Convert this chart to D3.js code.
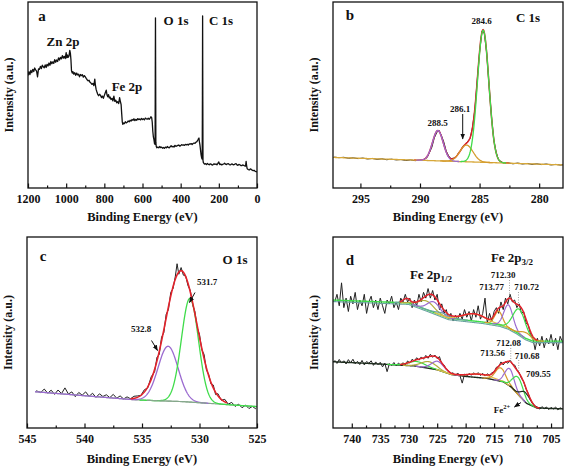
<!DOCTYPE html>
<html>
<head>
<meta charset="utf-8">
<script src="https://cdn.jsdelivr.net/npm/d3@7/dist/d3.min.js"></script>
<style>
html,body{margin:0;padding:0;background:#fff;}
svg{display:block;}
text{font-family:"Liberation Serif","Times New Roman",serif;font-weight:bold;fill:#111;}
</style>
</head>
<body>
<svg id="fig" width="567" height="473"></svg>
<script>
// ================= DATA =================
// (a) survey spectrum: [binding energy eV, intensity a.u.]
const surveyTicks = [1200,1000,800,600,400,200,0];
const surveyMinor = [1100,900,700,500,300,100];
const surveyLabels = ["Zn 2p","Fe 2p","O 1s","C 1s"];
const surveyData = [[1200,60.5],[1195,62.5],[1190,61.0],[1185,63.2],[1180,62.0],[1175,63.8],[1170,62.6],[1165,64.5],[1160,63.5],[1155,62.8],[1150,59.8],[1145,64.0],[1140,63.8],[1135,65.4],[1130,64.2],[1125,66.0],[1120,65.2],[1115,64.6],[1110,66.2],[1105,64.8],[1100,66.5],[1095,65.6],[1090,67.2],[1085,66.0],[1080,68.0],[1075,66.8],[1070,67.8],[1065,67.0],[1060,69.0],[1055,67.6],[1050,68.8],[1045,68.0],[1040,70.0],[1035,68.8],[1030,70.2],[1025,69.4],[1020,71.2],[1015,69.8],[1010,70.8],[1005,69.6],[1000,72.8],[997,70.0],[993,71.5],[990,70.2],[985,71.0],[981,74.0],[978,72.5],[975,69.0],[972,63.0],[968,61.8],[965,62.6],[960,61.2],[955,62.0],[950,60.6],[945,61.8],[940,60.8],[935,61.2],[930,59.8],[925,61.0],[920,60.4],[915,60.9],[910,59.6],[905,60.4],[900,59.8],[895,58.9],[890,58.2],[885,57.6],[880,57.9],[875,56.8],[870,56.4],[865,55.8],[860,56.2],[855,55.0],[850,58.5],[847,55.5],[843,53.0],[840,52.0],[835,50.5],[830,49.6],[825,50.4],[820,49.8],[815,48.6],[810,49.4],[805,48.2],[800,49.8],[795,51.2],[790,52.6],[786,50.0],[782,49.0],[778,50.2],[774,48.4],[770,48.9],[765,47.6],[760,48.2],[755,46.8],[750,49.4],[745,46.6],[740,47.2],[735,45.8],[730,46.4],[725,45.4],[720,48.6],[716,46.5],[712,44.8],[709,40.0],[706,35.6],[703,34.2],[700,35.0],[695,34.6],[690,35.6],[685,35.0],[680,35.4],[675,36.0],[670,35.6],[665,36.4],[660,36.0],[655,36.8],[650,36.4],[645,37.2],[640,36.2],[635,36.9],[630,36.4],[625,37.3],[620,36.8],[615,37.1],[610,36.6],[605,37.4],[600,36.8],[595,37.2],[590,36.6],[585,37.6],[580,37.2],[575,37.0],[570,37.5],[565,36.9],[560,37.6],[556,38.3],[552,37.8],[549,35.5],[546,30.5],[543,27.5],[540,26.0],[537,23.8],[534,23.5],[533,60.0],[532,91.5],[531,60.0],[530,24.5],[528,22.4],[525,21.6],[520,22.0],[515,21.6],[510,22.3],[505,21.7],[500,22.0],[495,21.4],[490,21.8],[485,21.3],[480,22.0],[475,21.6],[470,22.3],[465,21.8],[460,21.6],[455,22.2],[450,22.7],[445,22.1],[440,22.4],[435,22.0],[430,22.9],[425,22.4],[420,22.6],[415,22.9],[410,23.1],[405,22.5],[400,22.8],[395,23.3],[390,23.0],[385,23.2],[380,22.9],[375,23.4],[370,23.2],[365,23.5],[360,23.1],[355,23.7],[350,23.6],[345,23.9],[340,23.4],[335,23.9],[330,24.2],[325,24.0],[320,24.6],[315,24.9],[310,25.8],[307,26.4],[304,26.9],[302,25.0],[299,23.2],[296,20.5],[293,17.8],[290,16.2],[287,15.5],[286,50.0],[285,92.5],[284,50.0],[283,14.8],[281,13.6],[278,13.2],[275,12.8],[270,13.1],[265,12.6],[260,13.2],[255,12.7],[250,12.5],[245,13.0],[240,12.8],[235,12.3],[230,12.6],[225,13.0],[220,12.7],[215,12.9],[210,12.5],[205,13.2],[200,14.0],[197,13.0],[195,12.6],[190,12.9],[185,12.4],[180,12.7],[175,12.9],[170,13.3],[165,12.8],[160,12.6],[155,13.0],[150,13.1],[145,12.6],[140,12.4],[135,12.8],[130,12.9],[125,12.5],[120,12.6],[115,12.9],[110,13.1],[105,12.4],[100,12.2],[95,12.7],[90,12.5],[85,12.1],[80,12.0],[75,12.4],[70,12.2],[65,11.9],[60,11.8],[57,14.3],[55,12.5],[52,10.6],[50,10.2],[45,9.9],[40,9.7],[35,10.3],[30,10.0],[25,9.6],[20,9.3],[15,9.5],[10,9.0],[5,8.8],[0,8.6]];

// (b) C 1s
const c1sTicks = [295,290,285,280];
const c1sMinor = [292.5,287.5,282.5];
const c1sData = [[297.2,16.6],[296.8,16.3],[296.4,16.5],[296.0,16.0],[295.6,16.2],[295.2,15.8],[294.8,16.1],[294.4,15.6],[294.0,15.9],[293.6,15.4],[293.2,15.7],[292.8,15.2],[292.4,15.5],[292.0,15.1],[291.6,15.3],[291.2,14.8],[290.8,15.1],[290.4,14.7],[290.0,15.0],[289.8,14.9],[289.6,15.6],[289.4,16.4],[289.2,19.1],[289.0,22.0],[288.8,26.9],[288.6,29.7],[288.4,31.0],[288.2,28.2],[288.0,24.7],[287.8,19.9],[287.6,17.3],[287.4,15.8],[287.2,16.0],[287.0,16.5],[286.8,18.5],[286.6,20.0],[286.4,22.4],[286.2,23.3],[286.0,25.1],[285.8,26.6],[285.6,32.5],[285.4,42.0],[285.2,57.9],[285.0,73.1],[284.8,84.3],[284.6,83.0],[284.4,72.4],[284.2,54.6],[284.0,38.5],[283.8,25.5],[283.6,19.0],[283.4,15.0],[283.2,14.2],[283.0,13.4],[282.6,13.5],[282.2,13.0],[281.8,13.4],[281.4,12.9],[281.0,13.2],[280.6,12.7],[280.2,13.0],[279.8,12.6],[279.4,12.9],[279.0,12.4],[278.6,12.7],[278.2,12.3],[278.0,12.5]];
const c1sBgEnergy = [297.3,278];
const c1sBgIntensity = [16.45,12.4];
const c1sPeakCenter = [288.5,286.1,284.7];
const c1sPeakHeight = [16.3,9,71];
const c1sPeakSigma = [0.45,0.55,0.48];
const c1sPeakLabels = ["288.5","286.1","284.6"];

// (c) O 1s
const o1sTicks = [545,540,535,530,525];
const o1sMinor = [542.5,537.5,532.5,527.5];
const o1sData = [[544.2,19.5],[543.8,18.6],[543.5,20.4],[543.2,18.2],[542.9,19.8],[542.6,17.6],[542.3,19.9],[542.0,18.0],[541.7,21.0],[541.4,17.8],[541.1,18.9],[540.8,16.4],[540.5,18.6],[540.2,17.2],[539.9,18.9],[539.6,16.6],[539.3,18.2],[539.0,16.0],[538.7,17.9],[538.4,16.5],[538.1,17.4],[537.8,15.9],[537.5,17.6],[537.2,15.6],[536.9,16.8],[536.6,15.2],[536.3,16.3],[536.0,15.3],[535.7,16.6],[535.4,16.8],[535.1,17.0],[534.8,20.0],[534.5,21.0],[534.2,26.8],[533.9,29.5],[533.7,37.0],[533.5,38.5],[533.3,47.5],[533.1,50.0],[532.9,59.5],[532.7,62.0],[532.5,71.0],[532.3,73.0],[532.1,79.5],[531.95,86.0],[531.8,80.5],[531.6,84.0],[531.4,80.0],[531.2,79.5],[531.0,74.5],[530.8,72.0],[530.6,64.5],[530.4,61.0],[530.2,52.5],[530.0,49.0],[529.8,41.0],[529.6,38.5],[529.4,30.5],[529.2,28.0],[529.0,23.0],[528.8,22.5],[528.6,17.5],[528.4,18.0],[528.1,14.5],[527.8,15.0],[527.5,12.5],[527.2,13.4],[526.9,11.3],[526.6,12.5],[526.3,10.6],[526.0,12.0],[525.7,10.2],[525.4,11.3],[525.1,10.0]];
const o1sBgEnergy = [544.3,535.5,531.4,525];
const o1sBgIntensity = [19.0,14.7,13.8,11.2];
const o1sPeakCenter = [532.73,530.83];
const o1sPeakHeight = [28.7,54.3];
const o1sPeakSigma = [0.87,0.74];
const o1sEnvCenter = [531.6];
const o1sEnvHeight = [68.5];
const o1sEnvSigma = [1.36];
const o1sPeakLabels = ["532.8","531.7"];

// (d) Fe 2p : intensities on a 0.4 eV grid starting at 743 eV
const feTicks = [740,735,730,725,720,715,710,705];
const feMinor = [737.5,732.5,727.5,722.5,717.5,712.5,707.5];
const feGridStart = 743.0, feGridStep = 0.4;
const feUpperData = [66,70,64,76,63,68,61,69,65,71,
 62,67,64,70,60,66,69,63,67,62,
 68,64,60,67,65,69,63,66,62,68,
 66,70,66,68,63,67,64,70,66,71,
 68,73,68,72,67,70,62,65,60,62,
 57,60,56,59,57,60,57,62,58,61,
 56,62,58,64,57,60,68,55,60,56,
 61,63,60,66,62,68,65,70,66,67,
 63,65,60,61,55,54,49,47,41,47,
 43,48,42,47,44,49,43,47,41,48,
 45];
const feLowerData = [35.5,33.8,35.9,34.0,35.2,33.5,35.8,34.1,36.0,33.6,
 34.9,33.2,35.4,33.0,34.8,33.9,35.2,32.8,34.6,33.1,
 34.4,32.0,33.9,29.5,33.6,32.7,34.3,32.5,34.0,32.9,
 34.2,33.0,35.1,34.0,36.0,35.0,36.8,35.5,37.2,36.0,
 38.0,36.5,38.6,37.0,38.2,36.3,37.4,33.5,33.0,30.8,
 30.0,28.5,28.9,27.4,28.8,27.3,23.5,28.2,27.2,28.6,
 27.6,28.9,27.8,29.0,27.5,28.6,27.2,28.4,27.5,29.0,
 29.3,31.8,32.0,34.6,33.0,34.8,33.9,35.5,33.4,33.0,
 30.5,29.0,26.0,24.2,20.5,18.0,14.6,12.8,11.5,11.0,
 9.9,11.2,10.1,11.0,9.6,10.8,9.9,11.0,9.5,10.6,
 10.0];
const feUpperBgEnergy = [743.3,730,726,723,720,717,714,712.5,711,709.5,708.2,702.9];
const feUpperBgIntensity = [67,65.5,61,57.5,56.5,55.5,54,52.5,50,47,45.5,45.5];
const feUpperCenter = [730.4,726.9,725.6,723.8,718.5,714.2,712.5,710.6,709.4];
const feUpperHeight = [2.2,4.5,5.5,1.5,3.8,7,12,13,3];
const feUpperSigma = [0.6,1.3,1.1,1.2,2.0,0.7,0.8,1.1,0.9];
const feLowerBgEnergy = [743.3,735,729,725,722.5,720,716.3,713.4,712,711,709.3,707.5,702.9];
const feLowerBgIntensity = [34.7,33.5,32.5,30.5,28,27,26,24.2,21.5,18.2,12.9,10.5,10];
const feLowerCenter = [728.5,726.5,724.9,717.5,713.9,712.3,710.8,709.5];
const feLowerHeight = [2.5,3.5,4.5,1.8,7,9,9,5];
const feLowerSigma = [1.5,1.3,1.1,2.2,0.9,0.8,0.9,0.8];
const feUpperLabels = ["713.77","712.30","710.72"];
const feLowerLabels = ["713.56","712.08","710.68","709.55"];

// ================= DRAWING =================
const FONT = '"Liberation Serif","Times New Roman",serif';
const COL = {red:"#e3222b", green:"#3fdc4a", purple:"#9b6bd0", orange:"#d59a2c", yellow:"#e0bf4e",
  olive:"#b3ad3c", teal:"#6aa3a0", dark:"#1e2c1e", bgB:"#d7a83a", bgC:"#86a88c", grey:"#8a8a8a"};
const svg = d3.select("#fig");
const defs = svg.append("defs");
defs.append("marker").attr("id","arrow").attr("viewBox","0 0 10 10").attr("refX",9).attr("refY",5)
  .attr("markerWidth",6).attr("markerHeight",6).attr("orient","auto")
  .append("path").attr("d","M0,1L10,5L0,9Z").attr("fill","#111");

const gauss = (E,c,h,s) => h*Math.exp(-((E-c)*(E-c))/(2*s*s));
function sample(hi, lo, fn){ const pts=[]; for(let E=hi; E>=lo-1e-9; E-=0.04) pts.push([E, fn(E)]); return pts; }

function makePanel(name, box, domain, major, minor){
  const x = d3.scaleLinear().domain(domain).range([box.left, box.right]);
  const y = d3.scaleLinear().domain([0,100]).range([box.bottom, box.top]);
  const g = svg.append("g").attr("class","panel-"+name);
  defs.append("clipPath").attr("id","clip-"+name).append("rect")
    .attr("x",box.left).attr("y",box.top).attr("width",box.right-box.left).attr("height",box.bottom-box.top);
  const plot = g.append("g").attr("clip-path",`url(#clip-${name})`);
  const axMaj = g.append("g").attr("transform",`translate(0,${box.bottom})`)
    .call(d3.axisBottom(x).tickValues(major).tickSize(-4.5).tickPadding(6).tickFormat(d3.format("d")));
  const axMin = g.append("g").attr("transform",`translate(0,${box.bottom})`)
    .call(d3.axisBottom(x).tickValues(minor).tickSize(-2.5).tickFormat(()=>""));
  [axMaj,axMin].forEach(a=>{ a.select(".domain").remove(); a.selectAll("line").attr("stroke","#111").attr("stroke-width",1.2); });
  axMaj.selectAll("text").attr("font-size",12).attr("fill","#111").style("font-family",FONT).style("font-weight","bold");
  g.append("rect").attr("x",box.left).attr("y",box.top).attr("width",box.right-box.left).attr("height",box.bottom-box.top)
    .attr("fill","none").attr("stroke","#111").attr("stroke-width",1.3);
  g.append("text").attr("x",(box.left+box.right)/2).attr("y",box.bottom+box.titleGap)
    .attr("text-anchor","middle").attr("font-size",12.5).text("Binding Energy (eV)");
  g.append("text").attr("transform",`translate(${box.left-19.5},${(box.top+box.bottom)/2}) rotate(-90)`)
    .attr("text-anchor","middle").attr("dominant-baseline","central").attr("font-size",12).text("Intensity (a.u.)");
  const line = d3.line().x(d=>x(d[0])).y(d=>y(d[1]));
  return {x,y,g,plot,line};
}
function txt(g, x, y, s, size, anchor){
  return g.append("text").attr("x",x).attr("y",y).attr("text-anchor",anchor||"middle").attr("font-size",size).text(s);
}
function path(P, pts, color, w){
  return P.plot.append("path").datum(pts).attr("d",P.line).attr("fill","none").attr("stroke",color)
    .attr("stroke-width",w).attr("stroke-linejoin","round");
}
function arrow(g, x1,y1,x2,y2){
  g.append("line").attr("x1",x1).attr("y1",y1).attr("x2",x2).attr("y2",y2)
    .attr("stroke","#111").attr("stroke-width",1).attr("marker-end","url(#arrow)");
}

// ---- (a)
const A = makePanel("a",{left:28,right:257,top:2,bottom:188,titleGap:33},[1200,0],surveyTicks,surveyMinor);
path(A, surveyData, "#111", 1.3);
txt(A.g, 42, 21, "a", 15);
txt(A.g, 63, 46, surveyLabels[0], 13);
txt(A.g, 127, 91, surveyLabels[1], 13);
txt(A.g, 176, 25, surveyLabels[2], 13);
txt(A.g, 221, 25, surveyLabels[3], 13);

// ---- (b)
const B = makePanel("b",{left:333,right:563,top:2,bottom:188,titleGap:33},[297.3,278],c1sTicks,c1sMinor);
const bBg = d3.scaleLinear().domain(c1sBgEnergy).range(c1sBgIntensity);
const bEnv = E => bBg(E) + d3.sum(c1sPeakCenter, (c,i)=>gauss(E,c,c1sPeakHeight[i],c1sPeakSigma[i]));
path(B, c1sData, "#222", 1);
path(B, sample(290.5, 282.5, bEnv), COL.red, 1.5);
path(B, sample(297.3, 278, bBg), COL.bgB, 1.3);
const bCols = [COL.purple, COL.orange, COL.green];
c1sPeakCenter.forEach((c,i)=>{
  const s = c1sPeakSigma[i];
  path(B, sample(c+4*s, c-4*s, E=>bBg(E)+gauss(E,c,c1sPeakHeight[i],s)), bCols[i], 1.3);
});
txt(B.g, 350, 20, "b", 15);
txt(B.g, 528, 22, "C 1s", 13);
txt(B.g, 481.7, 24, c1sPeakLabels[2], 9);
txt(B.g, 437.5, 126, c1sPeakLabels[0], 9);
txt(B.g, 460, 111.5, c1sPeakLabels[1], 9);
arrow(B.g, 462.7, 114, 462.7, 139);

// ---- (c)
const C = makePanel("c",{left:27,right:257,top:237,bottom:428,titleGap:35},[545,525],o1sTicks,o1sMinor);
const cBg = d3.scaleLinear().domain(o1sBgEnergy).range(o1sBgIntensity).clamp(true);
const cEnv = E => cBg(E) + gauss(E,o1sEnvCenter[0],o1sEnvHeight[0],o1sEnvSigma[0]);
path(C, o1sData, "#222", 1);
path(C, sample(544.3, 525, cBg), COL.bgC, 1.2);
path(C, sample(544.3, 529.2, E=>cBg(E)+gauss(E,o1sPeakCenter[0],o1sPeakHeight[0],o1sPeakSigma[0])), COL.purple, 1.3);
path(C, sample(535.2, 525, E=>cBg(E)+gauss(E,o1sPeakCenter[1],o1sPeakHeight[1],o1sPeakSigma[1])), COL.green, 1.3);
path(C, sample(534.6, 529.4, cBg), COL.bgC, 1.1);
path(C, sample(536.0, 527.6, cEnv), COL.red, 1.6);
txt(C.g, 43, 261, "c", 15);
txt(C.g, 235, 264, "O 1s", 13);
txt(C.g, 207, 284.5, o1sPeakLabels[1], 9);
txt(C.g, 141, 331.5, o1sPeakLabels[0], 9);
arrow(C.g, 195, 292.5, 189.5, 302.5);
arrow(C.g, 151.5, 340.5, 157.5, 350.5);

// ---- (d)
const D = makePanel("d",{left:333,right:563,top:237,bottom:428,titleGap:35},[743.3,702.9],feTicks,feMinor);
const grid = arr => arr.map((v,i)=>[feGridStart - feGridStep*i, v]);
const uBg = d3.scaleLinear().domain(feUpperBgEnergy).range(feUpperBgIntensity).clamp(true);
const lBg = d3.scaleLinear().domain(feLowerBgEnergy).range(feLowerBgIntensity).clamp(true);
const uEnv = E => uBg(E) + d3.sum(feUpperCenter,(c,i)=>gauss(E,c,feUpperHeight[i],feUpperSigma[i]));
const lEnv = E => lBg(E) + d3.sum(feLowerCenter,(c,i)=>gauss(E,c,feLowerHeight[i],feLowerSigma[i]));
path(D, grid(feUpperData), "#222", 1);
path(D, grid(feLowerData), "#222", 1);
const uCols = [COL.teal, COL.olive, COL.purple, COL.teal, COL.yellow, COL.orange, COL.purple, COL.green, COL.orange];
const lCols = [COL.green, COL.olive, COL.purple, COL.yellow, COL.orange, COL.purple, COL.green, COL.dark];
path(D, sample(743.3, 702.9, E=>uBg(E)-0.8), COL.teal, 1.1);
path(D, sample(743.3, 702.9, uBg), COL.green, 1.4);
path(D, sample(743.3, 702.9, lBg), COL.dark, 1.4);
feUpperCenter.forEach((c,i)=>{ const s=feUpperSigma[i];
  path(D, sample(c+3.5*s, c-3.5*s, E=>uBg(E)+gauss(E,c,feUpperHeight[i],s)), uCols[i], 1.2); });
feLowerCenter.forEach((c,i)=>{ const s=feLowerSigma[i];
  path(D, sample(c+3.5*s, c-3.5*s, E=>lBg(E)+gauss(E,c,feLowerHeight[i],s)), lCols[i], 1.2); });
path(D, sample(731.6, 707.4, uEnv), COL.red, 1.5);
path(D, sample(731.5, 707.0, lEnv), COL.red, 1.5);
// dotted guides
[[712.30,280,uEnv],[710.72,292,uEnv],[712.08,348,lEnv],[710.68,360,lEnv]].forEach(([E,y0,f])=>{
  D.g.append("line").attr("x1",D.x(E)).attr("x2",D.x(E)).attr("y1",y0).attr("y2",D.y(f(E)))
    .attr("stroke",COL.grey).attr("stroke-width",0.8).attr("stroke-dasharray","1,1.5");
});
txt(D.g, 350, 265, "d", 15);
const t1 = txt(D.g, 512, 262, "Fe 2p", 13); t1.append("tspan").attr("dy",3).attr("font-size",9).text("3/2");
const t2 = txt(D.g, 431, 279, "Fe 2p", 13); t2.append("tspan").attr("dy",3).attr("font-size",9).text("1/2");
txt(D.g, 491.7, 290, feUpperLabels[0], 9);
txt(D.g, 503, 278, feUpperLabels[1], 9);
txt(D.g, 526.7, 290, feUpperLabels[2], 9);
txt(D.g, 492.5, 356, feLowerLabels[0], 9);
txt(D.g, 508.7, 346, feLowerLabels[1], 9);
txt(D.g, 527, 358.7, feLowerLabels[2], 9);
txt(D.g, 538.3, 376.5, feLowerLabels[3], 9);
const t3 = txt(D.g, 502, 413, "Fe", 9); t3.append("tspan").attr("dy",-4).attr("font-size",6.5).text("2+");
arrow(D.g, 521, 402.5, 514.5, 407);
</script>
</body>
</html>
